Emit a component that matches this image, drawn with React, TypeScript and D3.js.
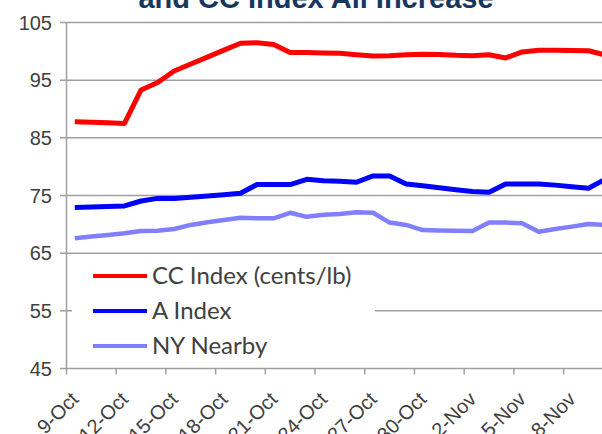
import React from 'react';
import * as d3 from 'd3';

// daily categories, 9-Oct onwards
const startDate = new Date(2012, 9, 9);
const dayCount = 33;
const dates = d3.range(dayCount).map(i => d3.timeDay.offset(startDate, i));

const ccIndex = [
    87.8, 87.7, 87.6, 87.5, 93.3, 94.6, 96.6, 97.8, 99.0, 100.2, 101.4,
    101.5, 101.2, 99.8, 99.8, 99.7, 99.65, 99.4, 99.2, 99.25, 99.4, 99.5,
    99.45, 99.3, 99.25, 99.4, 98.85, 99.9, 100.2, 100.2, 100.15, 100.1, 99.4,
];
const aIndex = [
    72.9, 73.0, 73.1, 73.2, 74.05, 74.5, 74.5, 74.7, 74.9, 75.15, 75.4,
    76.9, 76.9, 76.9, 77.8, 77.55, 77.45, 77.3, 78.4, 78.4, 77.0, 76.7,
    76.35, 76.0, 75.7, 75.55, 77.0, 77.0, 77.0, 76.8, 76.5, 76.25, 77.8,
];
const nyNearby = [
    67.6, 67.9, 68.15, 68.45, 68.85, 68.9, 69.2, 69.9, 70.35, 70.75, 71.15,
    71.05, 71.05, 72.0, 71.3, 71.65, 71.8, 72.1, 72.0, 70.3, 69.9, 69.0,
    68.95, 68.9, 68.85, 70.3, 70.3, 70.2, 68.7, 69.2, 69.6, 70.05, 69.9,
];

const seriesNames = ['CC Index (cents/lb)', 'A Index', 'NY Nearby'];
const seriesColors = ['#ff0000', '#0000ff', '#8080ff'];
const yTicks = [45, 55, 65, 75, 85, 95, 105];
const titleText = 'and CC Index All Increase';

const fmt = d3.timeFormat('%-d-%b');

export default function App() {
    const left = 66.5;
    const catW = 16.57;
    const top = 22.5;
    const bottom = 368.5;

    const x = d3.scaleBand<Date>()
        .domain(dates)
        .range([left, left + catW * dayCount])
        .padding(0);
    const y = d3.scaleLinear().domain([45, 105]).range([bottom, top]);

    const line = d3.line<number>()
        .x((d, i) => x(dates[i])! + x.bandwidth() / 2)
        .y(d => y(d));

    const series = [ccIndex, aIndex, nyNearby];
    const tickDates = dates.filter((d, i) => i % 3 === 0);
    const right = left + catW * dayCount;

    const legendY = d3.scalePoint<string>().domain(seriesNames).range([276, 346]);

    return (
        <svg width={602} height={434} style={{ position: 'fixed', left: 0, top: 0, background: '#fff' }}
            fontFamily="'Liberation Sans', Arial, sans-serif">
            <text x={316} y={8} textAnchor="middle" fontSize={29} fontWeight="bold" fill="#17375e">{titleText}</text>

            {yTicks.map(t => (
                <g key={t}>
                    <line x1={left - 6.5} x2={right} y1={y(t)} y2={y(t)} stroke="#a0a0a0" strokeWidth={1.5} />
                    <text x={52} y={y(t)} dy="0.35em" textAnchor="end" fontSize={20} fill="#404040">{t}</text>
                </g>
            ))}
            <line x1={left} x2={left} y1={top} y2={bottom} stroke="#a0a0a0" strokeWidth={1.5} />

            {tickDates.map(d => (
                <g key={+d}>
                    <line x1={x(d)!} x2={x(d)!} y1={bottom} y2={bottom + 6} stroke="#a0a0a0" strokeWidth={1.5} />
                    <text transform={`translate(${x(d)! + x.bandwidth() / 2 + 5},${bottom + 32}) rotate(-45)`}
                        textAnchor="end" fontSize={20} fill="#404040">{fmt(d)}</text>
                </g>
            ))}

            {series.map((s, k) => (
                <path key={k} d={line(s)!} fill="none" stroke={seriesColors[k]} strokeWidth={k === 2 ? 4.5 : 5} strokeLinejoin="round" />
            ))}

            <rect x={72} y={258} width={303} height={106} fill="#fff" />
            {seriesNames.map((n, k) => (
                <g key={n}>
                    <line x1={93} x2={147} y1={legendY(n)!} y2={legendY(n)!} stroke={seriesColors[k]} strokeWidth={4} />
                    <text x={152} y={legendY(n)!} dy="0.35em" fontSize={24} fill="#404040" fontFamily="Lato, sans-serif">{n}</text>
                </g>
            ))}
        </svg>
    );
}
